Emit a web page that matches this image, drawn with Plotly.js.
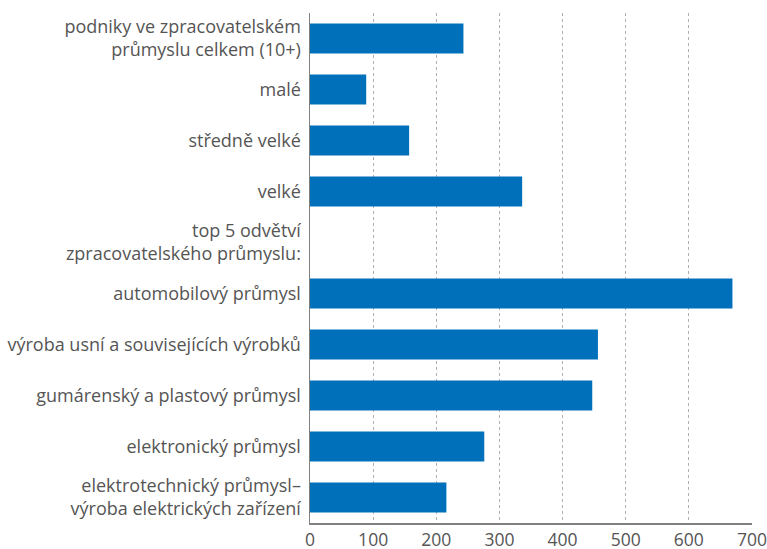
<!DOCTYPE html>
<html><head><meta charset="utf-8">
<script src="https://cdn.plot.ly/plotly-3.0.1.min.js"></script>
<style>body{margin:0;background:#fff}#c{width:767px;height:549px}</style>
</head><body><div id="c"></div>
<script>
const categories = [
  "podniky ve zpracovatelském<br>průmyslu celkem (10+)",
  "malé",
  "středně velké",
  "velké",
  "top 5 odvětví<br>zpracovatelského průmyslu:",
  "automobilový průmysl",
  "výroba usní a souvisejících výrobků",
  "gumárenský a plastový průmysl",
  "elektronický průmysl",
  "elektrotechnický průmysl–<br>výroba elektrických zařízení"
];
const values = [243, 89, 157, 336, null, 669, 456, 447, 276, 216];
const xTicks = [0, 100, 200, 300, 400, 500, 600, 700];

Plotly.newPlot('c', [{
  type: 'bar', orientation: 'h',
  y: categories, x: values,
  marker: {color: '#0070bb'},
  hoverinfo: 'x'
}], {
  width: 767, height: 549,
  margin: {l: 310, r: 15, t: 13, b: 26},
  bargap: 0.41,
  font: {family: 'Open Sans, sans-serif', size: 18, color: '#555555'},
  plot_bgcolor: '#fff', paper_bgcolor: '#fff',
  showlegend: false,
  xaxis: {
    range: [0, 700], tickvals: xTicks, ticktext: xTicks.map(String),
    showgrid: true, gridcolor: '#b0b0b0', griddash: '3px,3px', gridwidth: 1,
    zeroline: false, showline: true, linecolor: '#808080', linewidth: 1.5,
    ticks: '', ticklabeloverflow: 'allow',
    tickfont: {size: 17.5, color: '#555555'}, fixedrange: true
  },
  yaxis: {
    autorange: 'reversed', showline: true, linecolor: '#808080', linewidth: 1.5,
    showgrid: false, ticks: '', ticklabelstandoff: 4,
    tickfont: {size: 18, color: '#555555'}, fixedrange: true
  }
}, {displayModeBar: false, staticPlot: true});
</script></body></html>
